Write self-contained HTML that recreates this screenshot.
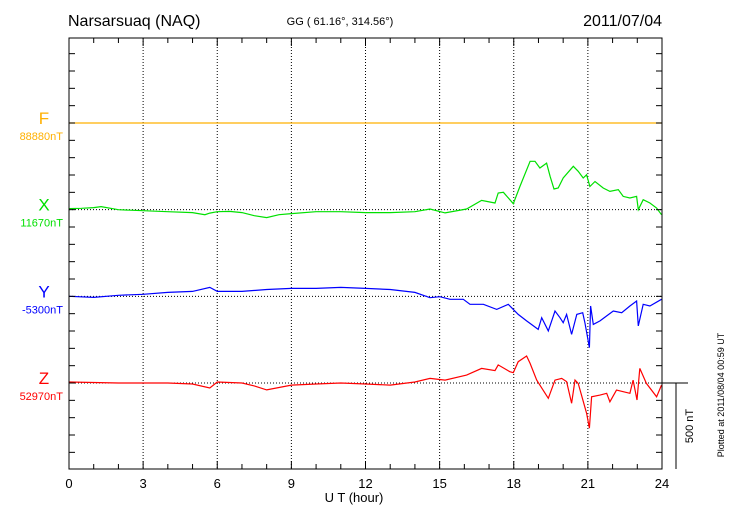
<!DOCTYPE html>
<html><head><meta charset="utf-8"><style>
body{margin:0;background:#fff;font-family:"Liberation Sans",sans-serif}
svg text{font-family:"Liberation Sans",sans-serif}
</style></head><body>
<svg id="c" width="730" height="520" xmlns="http://www.w3.org/2000/svg">
<text x="68" y="26" font-size="16">Narsarsuaq (NAQ)</text>
<text x="340" y="25" font-size="11" text-anchor="middle">GG ( 61.16°, 314.56°)</text>
<text x="662" y="26" font-size="16" text-anchor="end">2011/07/04</text>
<g id="grid"></g>
<g id="series"></g>
<rect x="69" y="38" width="593" height="431" fill="none" stroke="#000" stroke-width="1"/>
<g id="ticks"></g>
<text x="354" y="502" font-size="13" text-anchor="middle">U T (hour)</text>
<line x1="662" y1="383" x2="688" y2="383" stroke="#000"/>
<line x1="676" y1="383" x2="676" y2="469" stroke="#000"/>
<text transform="translate(693,426) rotate(-90)" font-size="11" text-anchor="middle">500 nT</text>
<text transform="translate(724,395) rotate(-90)" font-size="9" text-anchor="middle">Plotted at 2011/08/04 00:59 UT</text>
</svg>
<script>
const xTicks=[0,3,6,9,12,15,18,21,24];
const channels=["F","X","Y","Z"];
const baseLabels=["88880nT","11670nT","-5300nT","52970nT"];
const colors=["#ffb000","#00e000","#0000ff","#ff0000"];
const fTimes=[0,24];
const fVals=[0,0];
const xTimes=[0,0.5,1,1.3,2,3,4,5,5.5,5.7,6,6.5,7,7.5,8,8.5,9,10,11,12,13,14,14.61,15.22,16.09,16.7,17.24,17.37,17.58,17.98,18.25,18.66,18.86,19.06,19.33,19.47,19.63,19.8,20,20.41,20.61,20.81,20.95,21.08,21.29,21.62,21.89,22.23,22.43,22.7,22.97,23.04,23.24,23.51,23.78,23.98];
const xVals=[6,8,12,18,0,-6,-12,-17,-29,-20,-12,-10,-17,-35,-46,-29,-23,-12,-12,-17,-17,-12,4,-19,4,54,39,97,101,35,135,281,281,242,271,194,120,126,184,252,223,184,203,135,164,126,106,116,77,68,77,0,58,39,10,-29];
const yTimes=[0,1,2,3,4,5,5.7,6,7,8,9,10,11,12,13,14,14.61,15.01,15.42,15.96,16.23,16.77,17.31,17.78,17.98,18.18,18.52,18.99,19.13,19.4,19.67,19.87,20,20.14,20.34,20.55,20.79,20.88,21.06,21.11,21.22,21.49,21.76,22.03,22.37,22.7,22.97,23.04,23.24,23.51,23.98];
const yVals=[0,-6,6,12,23,29,52,29,29,40,46,46,52,46,40,23,-8,-2,-17,-17,-46,-46,-76,-46,-76,-105,-143,-192,-124,-201,-85,-124,-153,-105,-221,-105,-95,-153,-298,-56,-163,-143,-114,-85,-95,-56,-27,-172,-46,-56,-17];
const zTimes=[0,2,4,5,5.7,6,7,7.5,8,9,10,11,12,13,14,14.61,15.22,16.09,16.7,17.24,17.37,17.84,17.98,18.18,18.52,18.66,18.93,19.4,19.67,19.94,20.14,20.34,20.48,20.61,20.95,21.06,21.15,21.49,21.76,21.89,22.16,22.7,22.83,22.99,23.1,23.37,23.78,23.98];
const zVals=[6,0,0,-6,-29,6,0,-17,-40,-12,-6,0,-6,-12,6,27,17,46,85,72,105,66,60,124,157,114,17,-89,17,27,8,-118,17,-2,-176,-263,-80,-70,-60,-109,-41,-60,17,-99,85,-2,-80,-12];
const NS="http://www.w3.org/2000/svg";
const X0=69,X1=662,Y0=38,Y1=469,base0=123,spacing=86.67,nTperPx=500/86;
const xs=t=>X0+(X1-X0)*t/24;
const ys=(i,v)=>base0+i*spacing-v/nTperPx;
const grid=document.getElementById('grid'),tk=document.getElementById('ticks'),ser=document.getElementById('series');
function mk(tag,at,parent){const e=document.createElementNS(NS,tag);for(const k in at)e.setAttribute(k,at[k]);parent.appendChild(e);return e;}
xTicks.forEach((t,i)=>{
 if(i>0&&i<xTicks.length-1){const l=mk('line',{x1:xs(t),x2:xs(t),y1:Y0,y2:Y1,stroke:'#000','stroke-dasharray':'1,2'},grid);
 
 }
 const tx=mk('text',{x:xs(t),y:488,'font-size':13,'text-anchor':'middle'},tk);tx.textContent=t;
 
 
});
for(let h=0;h<=24;h++){const big=h%3===0;
 mk('line',{x1:xs(h),x2:xs(h),y1:Y1,y2:Y1-(big?8:5),stroke:'#000'},tk);
 mk('line',{x1:xs(h),x2:xs(h),y1:Y0,y2:Y0+(big?8:5),stroke:'#000'},tk);}
for(let y=Y0+(base0-Y0)%(spacing/5);y<=Y1;y+=spacing/5){
 mk('line',{x1:X0,x2:X0+6,y1:y,y2:y,stroke:'#000'},tk);
 mk('line',{x1:X1,x2:X1-6,y1:y,y2:y,stroke:'#000'},tk);}
const data=[[fTimes,fVals],[xTimes,xVals],[yTimes,yVals],[zTimes,zVals]];
channels.forEach((c,i)=>{
 const by=base0+i*spacing;
 const g=mk('line',{x1:X0,x2:X1,y1:by,y2:by,stroke:'#000','stroke-dasharray':'1,2'},grid);
 
 
 const t1=mk('text',{x:44,y:by+1,'font-size':17,'text-anchor':'middle',fill:colors[i]},tk);t1.textContent=c;
 
 
 const t2=mk('text',{x:63,y:by+17,'font-size':11,'text-anchor':'end',fill:colors[i]},tk);t2.textContent=baseLabels[i];
 
 
 const [ts,vs]=data[i];
 const p=mk('polyline',{points:ts.map((t,j)=>xs(t).toFixed(1)+','+ys(i,vs[j]).toFixed(1)).join(' '),fill:'none',stroke:colors[i],'stroke-width':1.2},ser);
 
 
});
</script>
</body></html>
